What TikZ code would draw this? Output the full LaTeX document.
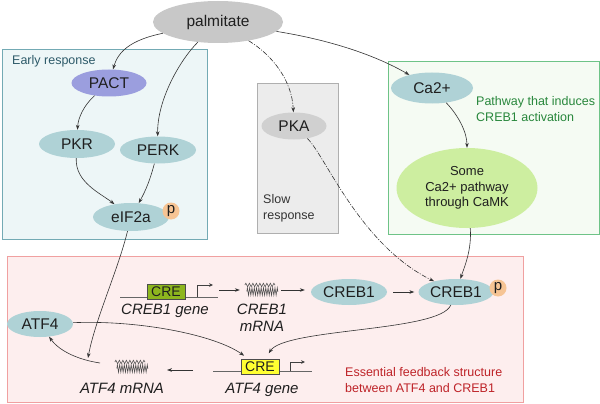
\documentclass[tikz,border=0pt]{standalone}
\usepackage{fontspec}
\setmainfont{Liberation Sans}
\usetikzlibrary{arrows.meta,decorations.pathmorphing,shapes.geometric}
\definecolor{palG}{RGB}{200,200,200}
\definecolor{pactC}{RGB}{155,158,222}
\definecolor{tealE}{RGB}{175,210,214}
\definecolor{pC}{RGB}{246,196,148}
\definecolor{earlyF}{RGB}{237,246,247}
\definecolor{earlyD}{RGB}{115,170,180}
\definecolor{earlyT}{RGB}{45,90,105}
\definecolor{slowF}{RGB}{236,236,236}
\definecolor{slowD}{RGB}{175,175,175}
\definecolor{pkaC}{RGB}{208,208,208}
\definecolor{grnF}{RGB}{245,251,243}
\definecolor{grnD}{RGB}{110,195,135}
\definecolor{grnT}{RGB}{40,135,60}
\definecolor{camkC}{RGB}{205,238,160}
\definecolor{redF}{RGB}{253,238,238}
\definecolor{redD}{RGB}{240,160,160}
\definecolor{redT}{RGB}{190,35,40}
\definecolor{creG}{RGB}{141,182,30}
\definecolor{creY}{RGB}{255,255,50}
\newcommand{\mrnashape}[1]{%
  \draw[black!70, line width=0.55pt, decorate, decoration={snake, amplitude=1.8pt, segment length=3.5pt}] ([shift={(1,-5)}]#1.west) -- ([shift={(-3,-5)}]#1.east);
  \draw[black!70, line width=0.55pt, decorate, decoration={zigzag, amplitude=3.8pt, segment length=2.3pt}] ([shift={(3,1.5)}]#1.west) -- ([shift={(0,1.5)}]#1.east);
}
\begin{document}
\begin{tikzpicture}[x=1pt,y=-1pt,
  every node/.style={inner sep=0pt, text=black!88},
  ell/.style={ellipse, minimum width=76pt, minimum height=27pt, font=\fontsize{15.5}{17}\selectfont},
  tealnode/.style={ell, fill=tealE},
  pcirc/.style={circle, fill=pC, minimum size=17pt, font=\fontsize{15}{15}\selectfont},
  arr/.style={draw=black!80, line width=0.6pt, -{Stealth[length=5pt,width=3.6pt]}},
  dd/.style={arr, dash pattern=on 5pt off 1.5pt on 1pt off 1.5pt},
  lbl/.style={font=\fontsize{12.5}{16}\selectfont, align=left, anchor=west},
  gl/.style={font=\itshape\fontsize{15}{17}\selectfont, align=center},
  crebox/.style={draw=black!70, line width=0.6pt, minimum width=38pt, minimum height=15pt, font=\fontsize{14}{14}\selectfont},
  geneln/.style={draw=black!60, line width=0.8pt},
  promo/.style={draw=black!75, line width=0.6pt, -{Stealth[length=4pt,width=3.6pt]}},
  squig/.style={minimum width=34pt, minimum height=16pt},
]
\useasboundingbox (0,0) rectangle (600,404);
\fill[white] (0,0) rectangle (600,404);

% region boxes
\draw[fill=earlyF, draw=earlyD, line width=0.8pt] (2,49) rectangle (207,239);
\draw[fill=slowF, draw=slowD, line width=0.8pt] (257,83) rectangle (338,233);
\draw[fill=grnF, draw=grnD, line width=0.8pt] (388,61) rectangle (599,234);
\draw[fill=redF, draw=redD, line width=0.8pt] (7,256) rectangle (523,402);

% region labels
\node[lbl, text=earlyT] (lEarly) at (12,61) {Early response};
\node[lbl, anchor=north west, text=black!80] (lSlow) at (263,194) {Slow\\response};
\node[lbl, anchor=north west, text=grnT] (lGrn) at (476,96) {Pathway that induces\\CREB1 activation};
\node[lbl, anchor=north west, text=redT] (lRed) at (345,367) {Essential feedback structure\\between ATF4 and CREB1};

% molecule nodes
\node[ell, fill=palG, minimum width=130pt, minimum height=42pt] (pal) at (218,22) {palmitate};
\node[ell, fill=pactC, minimum width=75pt] (pact) at (109,83) {PACT};
\node[tealnode, minimum height=28pt] (pkr) at (77,144) {PKR};
\node[tealnode] (perk) at (158,150) {PERK};
\node[tealnode, minimum height=28pt] (eif) at (131,217) {eIF2a};
\node[pcirc] (eifp) at (171,211) {p};
\node[ell, fill=pkaC, minimum width=65pt] (pka) at (294,126) {PKA};
\node[tealnode, minimum width=82pt, minimum height=31pt] (ca) at (432,88) {Ca2+};
\node[ellipse, fill=camkC, minimum width=141pt, minimum height=80pt, align=center, font=\fontsize{13}{15.5}\selectfont] (camk) at (467,188) {Some\\Ca2+ pathway\\through CaMK};
\node[tealnode, minimum height=26pt] (creb) at (349,292) {CREB1};
\node[tealnode, minimum width=75pt, minimum height=26pt] (crebp) at (456,292) {CREB1};
\node[pcirc] (crebpp) at (498,288) {p};
\node[tealnode, minimum width=66pt, minimum height=26pt] (atf4) at (40,324) {ATF4};

% CREB1 gene
\coordinate (g1l) at (120,297);
\coordinate (g1r) at (218,297);
\draw[geneln] (g1l) -- (g1r);
\node[crebox, fill=creG] (cre1) at (166,292) {CRE};
\coordinate (p1b) at (197,297);
\coordinate (p1t) at (213,285);
\draw[promo] (p1b) |- (p1t);
\node[gl] (lcg) at (165,311) {CREB1 gene};
\node[squig] (m1) at (261,290) {};
\mrnashape{m1}
\node[gl, font=\itshape\fontsize{15}{16.5}\selectfont] (lcm) at (262,318) {CREB1\\mRNA};
\coordinate (a1s) at (219,290);
\draw[arr, shorten >=4pt] (a1s) -- (a1s -| m1.west);
\draw[arr, shorten <=3pt, shorten >=6pt] (m1.east) -- (m1.east -| creb.west);
\draw[arr, shorten <=6pt, shorten >=4pt] (creb.east) -- (crebp.west);

% ATF4 gene
\coordinate (g2l) at (213,371);
\coordinate (g2r) at (312,371);
\draw[geneln] (g2l) -- (g2r);
\node[crebox, fill=creY] (cre2) at (260,367) {CRE};
\coordinate (p2b) at (290,371);
\coordinate (p2t) at (305,362);
\draw[promo] (p2b) |- (p2t);
\node[gl] (lag) at (262,390) {ATF4 gene};
\node[squig] (m2) at (131,367) {};
\mrnashape{m2}
\node[gl] (lam) at (122,388) {ATF4 mRNA};
\coordinate (a2s) at (193,370);
\coordinate (a2e) at (167,370);
\draw[arr] (a2s) -- (a2e);
\coordinate (trE) at (88,358);
\coordinate (trS) at (100,363);

% connectors
\draw[arr] (pal) .. controls (130,40) and (118,52) .. (pact);
\draw[arr] (pal) .. controls (180,60) and (157,100) .. (perk);
\draw[arr] (pal) .. controls (330,40) and (375,55) .. (ca);
\draw[dd] (pal) .. controls (272,55) and (292,80) .. (pka);
\draw[arr] (pact) .. controls (84,105) and (78,118) .. (pkr);
\draw[arr] (pkr) .. controls (75,182) and (100,193) .. (eif);
\draw[arr] (perk) .. controls (150,180) and (146,190) .. (eif);
\draw[arr] (ca) .. controls (458,115) and (467,132) .. (camk);
\draw[arr] (camk) .. controls (472,250) and (464,268) .. (crebp);
\draw[dd] (pka) .. controls (325,155) and (360,245) .. (crebp);
\draw[arr, shorten >=7pt] (crebp) .. controls (440,332) and (285,328) .. (cre2);
\draw[arr, shorten >=6pt] (atf4) .. controls (140,320) and (215,335) .. (cre2);
\draw[arr] (eif) .. controls (118,270) and (95,320) .. (trE);
\draw[arr] (trS) .. controls (80,360) and (60,352) .. (atf4);
\end{tikzpicture}
\end{document}
